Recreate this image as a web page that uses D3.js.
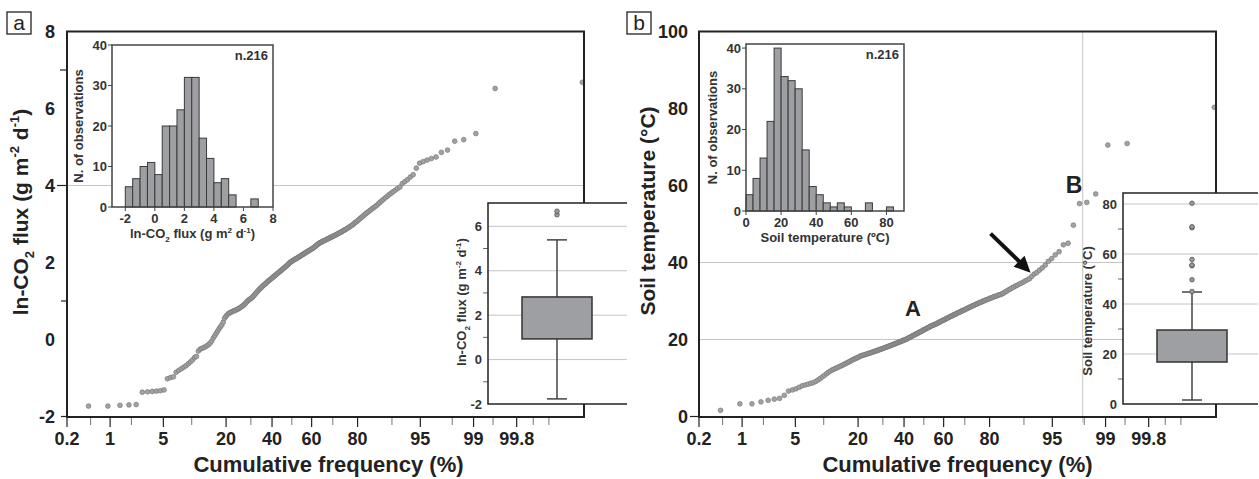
<!DOCTYPE html>
<html><head><meta charset="utf-8">
<script src="https://cdn.jsdelivr.net/npm/d3@7"></script>
<style>
body{margin:0;background:#fff}
svg{display:block}
text{font-family:"Liberation Sans",Arial,Helvetica,sans-serif}
</style>
</head><body>
<svg id="c" width="1259" height="479"></svg>
<script>
// ---------------- DATA ----------------
// sorted ln-CO2 flux values (n = 216)
const fluxValues = [
 -1.73,-1.73,-1.71,-1.70,-1.69,
 -1.37,-1.36,-1.35,-1.34,-1.33,-1.31,-1.02,
 -0.99,-0.97,-0.85,-0.80,-0.76,-0.72,-0.68,-0.63,-0.58,-0.53,
 -0.47,-0.44,-0.30,-0.25,-0.23,-0.21,-0.19,-0.16,-0.13,-0.09,-0.04,
 0.04,0.10,0.16,0.22,0.28,0.33,0.38,0.45,
 0.55,0.60,0.64,0.67,0.69,0.71,0.72,0.74,0.75,0.76,0.78,0.79,0.81,0.83,0.85,0.87,0.89,0.92,0.95,0.98,
 1.01,1.03,1.05,1.07,1.09,1.12,1.15,1.18,1.21,1.24,1.27,1.30,1.32,1.35,1.37,1.40,1.42,1.44,1.46,1.49,
 1.51,1.53,1.55,1.57,1.59,1.61,1.63,1.65,1.67,1.69,1.71,1.73,1.75,1.77,1.79,1.81,1.83,1.85,1.87,1.89,1.91,1.93,1.95,1.98,
 2.00,2.02,2.03,2.05,2.06,2.08,2.09,2.10,2.12,2.13,2.15,2.16,2.18,2.19,2.21,2.22,2.24,2.25,2.27,2.28,2.30,2.31,2.33,2.34,2.36,2.37,2.39,2.41,2.43,2.45,2.47,2.49,
 2.51,2.52,2.53,2.55,2.56,2.57,2.58,2.60,2.61,2.62,2.64,2.65,2.66,2.68,2.69,2.70,2.72,2.73,2.75,2.76,2.78,2.79,2.81,2.83,2.84,2.86,2.88,2.90,2.92,2.94,2.96,2.98,
 3.01,3.04,3.06,3.09,3.12,3.15,3.18,3.21,3.24,3.27,3.30,3.33,3.36,3.39,3.42,3.45,3.48,
 3.52,3.56,3.60,3.64,3.68,3.72,3.76,3.80,3.84,3.88,3.92,3.96,
 4.05,4.10,4.15,4.22,4.28,4.45,
 4.58,4.62,4.66,4.70,4.74,4.86,4.92,
 5.15,5.19,5.35,
 6.52,6.68
];
// sorted soil temperature values (n = 216)
const tempValues = [
 1.6,3.3,3.3,3.8,
 4.2,4.5,4.7,5.5,6.6,6.9,7.2,7.6,
 8.0,8.2,8.4,8.6,8.8,9.1,9.5,9.9,10.3,10.7,11.1,11.5,11.8,
 12.1,12.3,12.5,12.7,12.9,13.1,13.3,13.5,13.7,13.9,14.1,14.3,14.5,14.7,14.9,15.0,15.2,15.3,15.5,15.7,15.8,15.9,
 16.0,16.1,16.2,16.3,16.4,16.5,16.6,16.7,16.8,16.9,17.0,17.1,17.2,17.3,17.4,17.5,17.6,17.7,17.8,17.9,
 18.0,18.1,18.2,18.3,18.4,18.5,18.6,18.7,18.8,18.9,19.0,19.1,19.2,19.3,19.4,19.5,19.6,19.7,19.8,19.9,
 20.0,20.1,20.2,20.4,20.5,20.6,20.7,20.9,21.0,21.1,21.2,21.4,21.5,21.6,21.7,21.9,22.0,22.1,22.2,22.4,22.5,22.6,22.7,22.9,23.0,23.1,23.2,23.4,23.5,23.6,23.7,23.8,23.9,
 24.0,24.1,24.2,24.4,24.5,24.6,24.7,24.9,25.0,25.1,25.2,25.4,25.5,25.6,25.7,25.9,26.0,26.1,26.2,26.4,26.5,26.6,26.7,26.9,27.0,27.1,27.2,27.4,27.5,27.6,27.7,27.9,
 28.0,28.1,28.3,28.4,28.5,28.7,28.8,28.9,29.1,29.2,29.3,29.5,29.6,29.7,29.9,30.0,30.1,30.3,30.4,30.5,30.7,30.8,30.9,31.1,31.2,31.3,31.5,31.6,31.7,31.9,
 32.1,32.4,32.6,32.9,33.1,33.4,33.6,33.9,34.1,34.4,34.6,34.9,35.2,35.5,35.8,
 36.4,37.0,37.4,38.0,38.6,39.3,
 40.3,41.0,42.0,42.8,
 44.6,45.0,
 49.7,
 55.3,55.6,
 57.8,
 70.5,70.9,
 80.3
];
// histogram bins (edges) and counts
const fluxBinEdges = [-2,-1.5,-1,-0.5,0,0.5,1,1.5,2,2.5,3,3.5,4,4.5,5,5.5,6,6.5,7];
const fluxBinCounts = [5,7,10,11,8,20,20,24,32,32,17,12,6,7,3,0,0,2];
const tempBinEdges = [0,4,8,12,16,20,24,28,32,36,40,44,48,52,56,60,64,68,72,76,80,84];
const tempBinCounts = [4,8,13,22,40,33,32,30,15,6,4,2,1,2,1,0,0,2,0,0,1];
// box plot stats: [lower whisker, Q1, Q3, upper whisker]
const fluxBoxStats = [-1.77,0.93,2.82,5.39];
const tempBoxStats = [1.6,16.8,29.6,44.8];
// tick labels
const freqTicks = [0.2,1,5,20,40,60,80,95,99,99.8];
const freqMinorTicks = [0.5,2,10,30,50,70,90,98,99.5,99.9,99.95];
const fluxTicks = [-2,0,2,4,6,8];
const fluxMarkTicks = [-2,1,4,7];
const tempTicks = [0,20,40,60,80,100];
const fluxHistXTicks = [-2,0,2,4,6,8];
const tempHistXTicks = [0,20,40,60,80];
const histYTicks = [0,10,20,30,40];
const fluxBoxTicks = [-2,0,2,4,6];
const tempBoxTicks = [0,20,40,60,80];

// ---------------- HELPERS ----------------
function probit(p){
 const a=[-3.969683028665376e+01,2.209460984245205e+02,-2.759285104469687e+02,1.383577518672690e+02,-3.066479806614716e+01,2.506628277459239e+00];
 const b=[-5.447609879822406e+01,1.615858368580409e+02,-1.556989798598866e+02,6.680131188771972e+01,-1.328068155288572e+01];
 const c=[-7.784894002430293e-03,-3.223964580411365e-01,-2.400758277161838e+00,-2.549732539343734e+00,4.374664141464968e+00,2.938163982698783e+00];
 const d=[7.784695709041462e-03,3.224671290700398e-01,2.445134137142996e+00,3.754408661907416e+00];
 const pl=0.02425; let q,r;
 if(p<pl){q=Math.sqrt(-2*Math.log(p));return (((((c[0]*q+c[1])*q+c[2])*q+c[3])*q+c[4])*q+c[5])/((((d[0]*q+d[1])*q+d[2])*q+d[3])*q+1);}
 if(p>1-pl){q=Math.sqrt(-2*Math.log(1-p));return -(((((c[0]*q+c[1])*q+c[2])*q+c[3])*q+c[4])*q+c[5])/((((d[0]*q+d[1])*q+d[2])*q+d[3])*q+1);}
 q=p-0.5;r=q*q;return (((((a[0]*r+a[1])*r+a[2])*r+a[3])*r+a[4])*r+a[5])*q/(((((b[0]*r+b[1])*r+b[2])*r+b[3])*r+b[4])*r+1);
}
function rich(sel, parts, size){
 let shift=0;
 parts.forEach(([t,k])=>{
  const target = k==='sub'? size*0.3 : k==='sup'? -size*0.42 : 0;
  sel.append('tspan').attr('dy', target-shift).attr('font-size', k==='n'?size:size*0.62).text(t);
  shift=target;
 });
}
const svg = d3.select('#c');
const INK = '#222';

function panel(cfg){
 const g = svg.append('g');
 const z = d3.scaleLinear().domain([probit(0.002), 3.74]).range([cfg.x0, cfg.x1]);
 const xs = pct => z(probit(pct/100));
 const y = d3.scaleLinear().domain(cfg.yDomain).range([416.5, 31.5]);
 // gridlines
 cfg.hGrid.forEach(v=>{
  g.append('line').attr('x1', cfg.hGridX0||cfg.x0).attr('x2', cfg.x1).attr('y1', y(v)).attr('y2', y(v))
   .attr('stroke','#c4c4c4').attr('stroke-width',1);
 });
 cfg.vGrid.forEach(p=>{
  g.append('line').attr('x1', xs(p)).attr('x2', xs(p)).attr('y1', 32).attr('y2', 423)
   .attr('stroke','#c4c4c4').attr('stroke-width',1);
 });
 // points
 const n = cfg.values.length;
 g.append('g').selectAll('circle').data(cfg.values).join('circle')
  .attr('cx',(v,i)=>xs(Math.min((i+1)/n, 0.9999)*100))
  .attr('cy',v=>y(v)).attr('r',2.4)
  .attr('fill','#a2a2a2').attr('stroke','#6e6e6e').attr('stroke-width',0.6);
 // frame
 g.append('path').attr('d',`M${cfg.x0},${y.range()[1]}H${cfg.x1}V417H${cfg.x0}Z`)
  .attr('fill','none').attr('stroke',INK).attr('stroke-width',2);
 // x ticks
 const xa = g.append('g');
 freqMinorTicks.forEach(p=>{
  xa.append('line').attr('x1',xs(p)).attr('x2',xs(p)).attr('y1',418).attr('y2',425).attr('stroke','#777').attr('stroke-width',1);
 });
 freqTicks.forEach(p=>{
  xa.append('line').attr('x1',xs(p)).attr('x2',xs(p)).attr('y1',418).attr('y2',427).attr('stroke',INK).attr('stroke-width',1.2);
  xa.append('text').attr('x',xs(p)).attr('y',445).attr('text-anchor','middle')
   .attr('font-size',18).attr('font-weight','bold').attr('fill',INK).text(p);
 });
 g.append('text').attr('x',(cfg.x0+cfg.x1)/2+cfg.titleDx).attr('y',472).attr('text-anchor','middle')
  .attr('font-size',22).attr('font-weight','bold').attr('fill',INK).text('Cumulative frequency (%)');
 // y ticks
 cfg.yTicks.forEach(v=>{
  g.append('text').attr('x',cfg.x0-cfg.yLabelGap).attr('y',y(v)+6.5).attr('text-anchor','end')
   .attr('font-size',18).attr('font-weight','bold').attr('fill',INK).text(v);
 });
 cfg.yMarks.forEach(([v,len])=>{
  g.append('line').attr('x1',cfg.x0-len).attr('x2',cfg.x0).attr('y1',y(v)).attr('y2',y(v)).attr('stroke',INK).attr('stroke-width',1.2);
 });
 // y title
 const yt = g.append('text').attr('transform',`translate(${cfg.yTitleX},${cfg.yTitleY}) rotate(-90)`)
  .attr('text-anchor','middle').attr('font-weight','bold').attr('fill',INK);
 rich(yt, cfg.yTitle, 21);
 // panel letter
 g.append('rect').attr('x',cfg.letterX).attr('y',12).attr('width',24).attr('height',22).attr('fill','#fff').attr('stroke',INK).attr('stroke-width',1.3);
 g.append('text').attr('x',cfg.letterX+12).attr('y',30).attr('text-anchor','middle').attr('font-size',21).attr('fill',INK).text(cfg.letter);
 return {g, xs, y};
}

function hist(cfg){
 const g = svg.append('g');
 const x = d3.scaleLinear().domain(cfg.xDomain).range([cfg.x0,cfg.x1]);
 const y = d3.scaleLinear().domain(cfg.yDomain).range([cfg.y1,cfg.y0]);
 g.append('rect').attr('x',cfg.x0).attr('y',cfg.y0).attr('width',cfg.x1-cfg.x0).attr('height',cfg.y1-cfg.y0).attr('fill','#fff');
 g.selectAll('rect.bar').data(cfg.counts).join('rect').attr('class','bar')
  .filter(d=>d>0)
  .attr('x',(d,i)=>x(cfg.edges[cfg.counts.indexOf(d)===i?i:i]))
  .attr('y',d=>y(d)).attr('height',d=>y(0)-y(d))
  .attr('fill','#9d9fa2').attr('stroke','#3a3a3a').attr('stroke-width',1);
 g.selectAll('rect.bar').each(function(d,i){
  d3.select(this).attr('x',x(cfg.edges[i])).attr('width',x(cfg.edges[i+1])-x(cfg.edges[i]));
 });
 g.append('rect').attr('x',cfg.x0).attr('y',cfg.y0).attr('width',cfg.x1-cfg.x0).attr('height',cfg.y1-cfg.y0)
  .attr('fill','none').attr('stroke','#444').attr('stroke-width',1.5);
 histYTicks.forEach(v=>{
  g.append('line').attr('x1',cfg.x0-4).attr('x2',cfg.x0).attr('y1',y(v)).attr('y2',y(v)).attr('stroke','#444');
  g.append('text').attr('x',cfg.x0-5).attr('y',y(v)+4.5).attr('text-anchor','end').attr('font-size',13).attr('font-weight','bold').attr('fill','#333').text(v);
 });
 cfg.xTicks.forEach(v=>{
  g.append('line').attr('x1',x(v)).attr('x2',x(v)).attr('y1',cfg.y1).attr('y2',cfg.y1+4).attr('stroke','#444');
  g.append('text').attr('x',x(v)).attr('y',cfg.y1+16).attr('text-anchor','middle').attr('font-size',13).attr('font-weight','bold').attr('fill','#333').text(v);
 });
 g.append('text').attr('x',cfg.x1-5).attr('y',cfg.y0+15).attr('text-anchor','end').attr('font-size',13).attr('font-weight','bold').attr('fill','#333').text('n.216');
 g.append('text').attr('transform',`translate(${cfg.x0-29},${(cfg.y0+cfg.y1)/2}) rotate(-90)`).attr('text-anchor','middle')
  .attr('font-size',13).attr('font-weight','bold').attr('fill','#333').text('N. of observations');
 const xt = g.append('text').attr('x',(cfg.x0+cfg.x1)/2).attr('y',cfg.y1+31).attr('text-anchor','middle').attr('font-weight','bold').attr('fill','#333');
 rich(xt, cfg.xTitle, 13);
}

function box(cfg){
 const g = svg.append('g');
 const y = d3.scaleLinear().domain(cfg.yDomain).range([cfg.y1,cfg.y0]);
 g.append('rect').attr('x',cfg.x0).attr('y',cfg.y0).attr('width',cfg.x1-cfg.x0).attr('height',cfg.y1-cfg.y0).attr('fill','#fff');
 cfg.grid.forEach(v=>{
  g.append('line').attr('x1',cfg.x0).attr('x2',cfg.x1).attr('y1',y(v)).attr('y2',y(v)).attr('stroke','#c4c4c4');
 });
 cfg.ticks.forEach(v=>{
  g.append('text').attr('x',cfg.x0-6).attr('y',y(v)+4.5).attr('text-anchor','end').attr('font-size',13).attr('font-weight','bold').attr('fill','#333').text(v);
 });
 cfg.minor.forEach(v=>{
  g.append('line').attr('x1',cfg.x0-5).attr('x2',cfg.x0).attr('y1',y(v)).attr('y2',y(v)).attr('stroke','#666');
 });
 const [lo,q1,q3,hi] = cfg.stats;
 const cx = (cfg.bx0+cfg.bx1)/2;
 g.append('line').attr('x1',cx).attr('x2',cx).attr('y1',y(lo)).attr('y2',y(hi)).attr('stroke','#444').attr('stroke-width',1.5);
 [lo,hi].forEach(v=>g.append('line').attr('x1',cx-10).attr('x2',cx+10).attr('y1',y(v)).attr('y2',y(v)).attr('stroke','#444').attr('stroke-width',1.5));
 g.append('rect').attr('x',cfg.bx0).attr('y',y(q3)).attr('width',cfg.bx1-cfg.bx0).attr('height',y(q1)-y(q3))
  .attr('fill','#9d9fa2').attr('stroke','#333').attr('stroke-width',1.5);
 g.selectAll('circle').data(cfg.values.filter(v=>v>hi)).join('circle')
  .attr('cx',cx).attr('cy',v=>y(v)).attr('r',2.3).attr('fill','#999').attr('stroke','#555').attr('stroke-width',0.8);
 g.append('path').attr('d',`M${cfg.x1},${cfg.y0}H${cfg.x0}V${cfg.y1}H${cfg.x1}`).attr('fill','none').attr('stroke',INK).attr('stroke-width',1.5);
 const t = g.append('text').attr('transform',`translate(${cfg.titleX},${cfg.titleY}) rotate(-90)`).attr('text-anchor','middle').attr('font-weight','bold').attr('fill','#333');
 rich(t, cfg.title, 13);
}

// ---------------- PANEL a ----------------
const pa = panel({
 x0:67, x1:584, yDomain:[-2,8], values:fluxValues, hGrid:[4], hGridX0:57, vGrid:[],
 yTicks:fluxTicks, yMarks:[[-2,6],[1,6],[4,10],[7,7]], yLabelGap:12,
 yTitle:[['ln-CO','n'],['2','sub'],[' flux (g m','n'],['-2','sup'],[' d','n'],['-1','sup'],[')','n']],
 yTitleX:28, yTitleY:212, titleDx:3, letter:'a', letterX:7
});
hist({x0:112,x1:273,y0:45,y1:207,xDomain:[-2.9,8],yDomain:[0,40],edges:fluxBinEdges,counts:fluxBinCounts,
 xTicks:fluxHistXTicks, xTitle:[['ln-CO','n'],['2','sub'],[' flux (g m','n'],['2','sup'],[' d','n'],['-1','sup'],[')','n']]});
box({x0:488,x1:627,y0:203,y1:404,yDomain:[-2,7.05],grid:[0,2,4,6],ticks:fluxBoxTicks,minor:[-1,1,3,5],
 bx0:522,bx1:592,stats:fluxBoxStats,values:fluxValues,titleX:466,titleY:302,
 title:[['ln-CO','n'],['2','sub'],[' flux (g m','n'],['-2','sup'],[' d','n'],['-1','sup'],[')','n']]});

// ---------------- PANEL b ----------------
const pb = panel({
 x0:699, x1:1216, yDomain:[0,100], values:tempValues, hGrid:[20,40], vGrid:[97.9],
 yTicks:tempTicks, yMarks:[[0,9]], yLabelGap:11,
 yTitle:[['Soil temperature (°C)','n']],
 yTitleX:655, yTitleY:211, titleDx:0, letter:'b', letterX:627
});
hist({x0:746,x1:904,y0:44,y1:211,xDomain:[0,90],yDomain:[0,41],edges:tempBinEdges,counts:tempBinCounts,
 xTicks:tempHistXTicks, xTitle:[['Soil temperature (ºC)','n']]});
box({x0:1123,x1:1258,y0:193,y1:404,yDomain:[0,84.4],grid:[20,40,60,80],ticks:tempBoxTicks,minor:[10,30,50,70],
 bx0:1157,bx1:1227,stats:tempBoxStats,values:tempValues,titleX:1092,titleY:311,
 title:[['Soil temperature (°C)','n']]});

// annotations
svg.append('text').attr('x',913).attr('y',316).attr('text-anchor','middle').attr('font-size',22).attr('font-weight','bold').attr('fill',INK).text('A');
svg.append('text').attr('x',1074).attr('y',193).attr('text-anchor','middle').attr('font-size',23).attr('font-weight','bold').attr('fill',INK).text('B');
const tipX = pb.xs(197/216*100)+1, tipY = pb.y(tempValues[196])-6;
svg.append('line').attr('x1',tipX-40).attr('y1',tipY-39).attr('x2',tipX-9).attr('y2',tipY-9).attr('stroke','#111').attr('stroke-width',4);
svg.append('path').attr('d',`M${tipX},${tipY} L${tipX-17},${tipY-6} L${tipX-6},${tipY-17} Z`).attr('fill','#111');
</script>
</body></html>
